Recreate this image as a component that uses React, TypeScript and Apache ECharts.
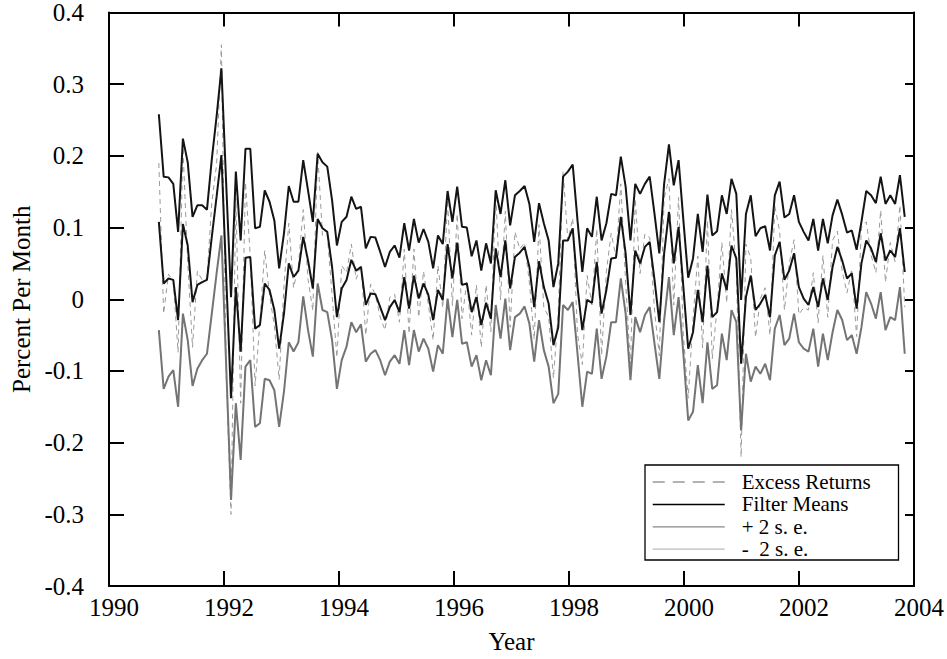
import React, { useEffect, useRef } from "react";
import * as echarts from "echarts";

// Monthly observations from late 1990 to late 2003
const FIRST_DATE = 1990.867;
const MONTH_STEP = 0.08369;

const excessReturns = [
  0.19, -0.02, 0.035, 0.025, -0.074, 0.212, 0.051, -0.067, 0.039, 0.027,
  0.029, 0.135, 0.188, 0.355, -0.105, -0.30, 0.141, -0.145, 0.163, 0.060,
  -0.121, -0.032, 0.068, 0.006, -0.037, -0.112, 0.019, 0.106, 0.016, 0.047,
  0.125, 0.028, -0.016, 0.205, 0.089, 0.090, 0.006, -0.081, 0.047, 0.037,
  0.077, 0.028, 0.049, -0.050, 0.021, 0.006, -0.025, -0.043, 0.003, 0.007,
  -0.032, 0.070, -0.048, 0.070, -0.025, 0.039, -0.007, -0.057, 0.047, -0.012,
  0.139, -0.009, 0.119, -0.027, 0.024, -0.050, 0.020, -0.067, 0.020, -0.045,
  0.149, -0.001, 0.123, -0.039, 0.094, 0.070, 0.079, 0.023, -0.056, 0.104,
  -0.012, -0.024, -0.110, -0.019, 0.179, 0.082, 0.113, -0.049, -0.091, 0.033,
  -0.008, 0.098, -0.078, 0.039, 0.092, 0.059, 0.161, 0.023, -0.091, 0.140,
  0.036, 0.091, 0.086, -0.015, -0.079, 0.141, 0.168, -0.008, 0.142, -0.050,
  -0.138, -0.028, 0.060, -0.068, 0.110, -0.083, -0.012, 0.079, -0.005, 0.125,
  0.043, -0.22, 0.077, 0.057, -0.053, 0.001, 0.016, -0.050, 0.130, 0.095,
  -0.015, 0.050, 0.083, -0.021, -0.012, -0.015, 0.037, -0.033, 0.061, -0.025,
  0.082, 0.095, 0.039, 0.009, 0.042, -0.052, 0.100, 0.108, 0.062, 0.037,
  0.124, 0.024, 0.079, 0.052, 0.131, -0.011,
];

const filterMeans = [
  0.108, 0.022, 0.029, 0.027, -0.029, 0.105, 0.075, -0.004, 0.020, 0.024,
  0.027, 0.087, 0.143, 0.201, 0.031, -0.138, 0.017, -0.073, 0.058, 0.059,
  -0.041, -0.036, 0.022, 0.013, -0.015, -0.069, -0.020, 0.050, 0.031, 0.040,
  0.087, 0.054, 0.015, 0.112, 0.099, 0.094, 0.045, -0.025, 0.015, 0.027,
  0.055, 0.040, 0.045, -0.008, 0.008, 0.007, -0.011, -0.029, -0.011, -0.001,
  -0.018, 0.031, -0.013, 0.033, 0.001, 0.022, 0.006, -0.029, 0.013, -0.001,
  0.077, 0.029, 0.079, 0.020, 0.022, -0.018, 0.003, -0.036, -0.005, -0.027,
  0.071, 0.031, 0.082, 0.015, 0.059, 0.065, 0.073, 0.045, -0.011, 0.053,
  0.017, -0.006, -0.064, -0.039, 0.082, 0.082, 0.099, 0.017, -0.043, -0.001,
  -0.005, 0.052, -0.020, 0.013, 0.057, 0.058, 0.115, 0.064, -0.022, 0.068,
  0.050, 0.073, 0.080, 0.027, -0.032, 0.064, 0.122, 0.050, 0.101, 0.017,
  -0.069, -0.046, 0.013, -0.032, 0.047, -0.025, -0.018, 0.036, 0.013, 0.075,
  0.057, -0.090, 0.003, 0.033, -0.015, -0.006, 0.006, -0.025, 0.061, 0.080,
  0.027, 0.040, 0.064, 0.017, 0.001, -0.008, 0.017, -0.011, 0.029, -0.001,
  0.045, 0.073, 0.054, 0.029, 0.036, -0.013, 0.050, 0.082, 0.071, 0.052,
  0.092, 0.054, 0.068, 0.059, 0.099, 0.038,
];

const plusTwoSE = [
  0.258, 0.171, 0.170, 0.161, 0.094, 0.224, 0.191, 0.115, 0.131, 0.131,
  0.125, 0.195, 0.255, 0.322, 0.160, 0.003, 0.178, 0.082, 0.210, 0.210,
  0.099, 0.101, 0.152, 0.136, 0.110, 0.043, 0.092, 0.158, 0.136, 0.136,
  0.194, 0.152, 0.108, 0.203, 0.191, 0.185, 0.138, 0.075, 0.108, 0.115,
  0.143, 0.126, 0.129, 0.071, 0.087, 0.086, 0.066, 0.045, 0.066, 0.075,
  0.058, 0.106, 0.068, 0.112, 0.079, 0.098, 0.080, 0.043, 0.089, 0.077,
  0.151, 0.108, 0.157, 0.101, 0.100, 0.060, 0.082, 0.040, 0.078, 0.050,
  0.152, 0.119, 0.166, 0.103, 0.145, 0.151, 0.158, 0.133, 0.080, 0.134,
  0.106, 0.082, 0.017, 0.050, 0.171, 0.178, 0.188, 0.110, 0.038, 0.099,
  0.087, 0.143, 0.082, 0.106, 0.147, 0.145, 0.199, 0.157, 0.082, 0.161,
  0.147, 0.161, 0.171, 0.119, 0.064, 0.161, 0.216, 0.159, 0.194, 0.110,
  0.030, 0.057, 0.119, 0.066, 0.146, 0.089, 0.095, 0.145, 0.119, 0.168,
  0.147, -0.001, 0.119, 0.145, 0.088, 0.099, 0.102, 0.068, 0.145, 0.164,
  0.114, 0.119, 0.145, 0.108, 0.094, 0.082, 0.112, 0.068, 0.112, 0.078,
  0.117, 0.139, 0.118, 0.093, 0.096, 0.069, 0.108, 0.151, 0.145, 0.134,
  0.171, 0.133, 0.145, 0.133, 0.173, 0.115,
];

const minusTwoSE = [
  -0.043, -0.125, -0.108, -0.099, -0.150, -0.020, -0.057, -0.121, -0.097, -0.085,
  -0.076, -0.020, 0.036, 0.089, -0.094, -0.280, -0.145, -0.224, -0.094, -0.085,
  -0.178, -0.173, -0.111, -0.113, -0.127, -0.178, -0.129, -0.060, -0.073, -0.060,
  0.004, -0.043, -0.080, 0.022, -0.015, -0.018, -0.057, -0.125, -0.085, -0.066,
  -0.032, -0.046, -0.035, -0.087, -0.076, -0.071, -0.085, -0.106, -0.087, -0.078,
  -0.090, -0.043, -0.092, -0.043, -0.073, -0.055, -0.069, -0.101, -0.064, -0.076,
  0.001, -0.053, -0.001, -0.062, -0.060, -0.094, -0.078, -0.113, -0.085, -0.106,
  -0.008, -0.055, 0.001, -0.071, -0.025, -0.020, -0.010, -0.034, -0.087, -0.029,
  -0.071, -0.094, -0.145, -0.132, -0.008, -0.015, -0.004, -0.076, -0.150, -0.101,
  -0.104, -0.041, -0.111, -0.080, -0.032, -0.032, 0.029, -0.020, -0.113, -0.025,
  -0.046, -0.022, -0.011, -0.062, -0.111, -0.029, 0.031, -0.050, 0.003, -0.076,
  -0.169, -0.157, -0.092, -0.145, -0.060, -0.125, -0.120, -0.048, -0.085, -0.015,
  -0.032, -0.183, -0.076, -0.115, -0.094, -0.104, -0.090, -0.113, -0.041, -0.022,
  -0.064, -0.055, -0.020, -0.060, -0.069, -0.073, -0.041, -0.094, -0.048, -0.085,
  -0.046, -0.015, -0.029, -0.057, -0.050, -0.076, -0.039, 0.010, -0.006, -0.027,
  0.010, -0.043, -0.025, -0.029, 0.017, -0.076,
];

const SERIES_NAMES = ["Excess Returns", "Filter Means", "+ 2 s. e.", "-  2 s. e."];

const FONT = "'Liberation Serif', 'Times New Roman', Times, serif";

function toPairs(values: number[]) {
  return values.map((v, i) => [FIRST_DATE + i * MONTH_STEP, v]);
}

function yLabel(v: number) {
  const r = Math.round(v * 10) / 10;
  return r === 0 ? "0" : r.toFixed(1);
}

export default function App() {
  const ref = useRef<HTMLDivElement>(null);

  useEffect(() => {
    if (!ref.current) return;
    const chart = echarts.init(ref.current, null, { renderer: "svg" });
    const axisColor = "#000";
    const axisFont = 25;
    const option: any = {
      animation: false,
      backgroundColor: "#fff",
      textStyle: { fontFamily: FONT },
      grid: { left: 109, right: 31, top: 12, bottom: 73, containLabel: false },
      xAxis: [
        {
          type: "value",
          position: "bottom",
          min: 1990,
          max: 2004,
          interval: 2,
          axisLine: { show: true, onZero: false, lineStyle: { color: axisColor, width: 2 } },
          axisTick: { show: true, inside: true, length: 15, lineStyle: { color: axisColor, width: 2 } },
          axisLabel: {
            margin: 9,
            color: "#000",
            fontSize: axisFont,
            fontFamily: FONT,
            padding: [0, 0, 0, 10],
            formatter: (v: number) => String(Math.round(v)),
          },
          splitLine: { show: false },
          name: "Year",
          nameLocation: "middle",
          nameGap: 43,
          nameTextStyle: { color: "#000", fontSize: axisFont, fontFamily: FONT },
        },
        {
          type: "value",
          position: "top",
          min: 1990,
          max: 2004,
          interval: 2,
          axisLine: { show: true, onZero: false, lineStyle: { color: axisColor, width: 2 } },
          axisTick: { show: true, inside: true, length: 14, lineStyle: { color: axisColor, width: 2 } },
          axisLabel: { show: false },
          splitLine: { show: false },
        },
      ],
      yAxis: [
        {
          type: "value",
          position: "left",
          min: -0.4,
          max: 0.4,
          interval: 0.1,
          axisLine: { show: true, onZero: false, lineStyle: { color: axisColor, width: 2 } },
          axisTick: { show: true, inside: true, length: 15, lineStyle: { color: axisColor, width: 2 } },
          axisLabel: {
            margin: 25,
            color: "#000",
            fontSize: axisFont,
            fontFamily: FONT,
            formatter: yLabel,
          },
          splitLine: { show: false },
          name: "Percent Per Month",
          nameLocation: "middle",
          nameRotate: 90,
          nameGap: 74,
          nameTextStyle: { color: "#000", fontSize: axisFont, fontFamily: FONT },
        },
        {
          type: "value",
          position: "right",
          min: -0.4,
          max: 0.4,
          interval: 0.1,
          axisLine: { show: true, onZero: false, lineStyle: { color: axisColor, width: 2 } },
          axisTick: { show: true, inside: true, length: 9, lineStyle: { color: axisColor, width: 2 } },
          axisLabel: { show: false },
          splitLine: { show: false },
        },
      ],
      legend: {
        orient: "vertical",
        left: 652,
        top: 471.5,
        itemWidth: 72,
        itemHeight: 12,
        itemGap: 1.4,
        padding: 0,
        selectedMode: false,
        itemStyle: { opacity: 0 },
        textStyle: {
          color: "#000",
          fontSize: 21,
          fontFamily: FONT,
          lineHeight: 21,
          padding: [0, 0, 0, 12],
        },
        data: [
          { name: SERIES_NAMES[0], itemStyle: { opacity: 0 }, lineStyle: { color: "#999", width: 1.5, type: [12, 8] } },
          { name: SERIES_NAMES[1], itemStyle: { opacity: 0 }, lineStyle: { color: "#000", width: 1.5, type: "solid" } },
          { name: SERIES_NAMES[2], itemStyle: { opacity: 0 }, lineStyle: { color: "#888", width: 1.2, type: "solid" } },
          { name: SERIES_NAMES[3], itemStyle: { opacity: 0 }, lineStyle: { color: "#bbb", width: 1.2, type: "solid" } },
        ],
      },
      graphic: [
        {
          type: "rect",
          shape: { x: 645, y: 465, width: 253.5, height: 95 },
          style: { fill: "none", stroke: "#000", lineWidth: 1.3 },
          z: 10,
        },
      ],
      series: [
        {
          name: SERIES_NAMES[0],
          type: "line",
          data: toPairs(excessReturns),
          symbol: "none",
          showSymbol: false,
          lineStyle: { color: "#9a9a9a", width: 1, type: [5, 4] },
          itemStyle: { color: "#9a9a9a" },
          z: 1,
        },
        {
          name: SERIES_NAMES[1],
          type: "line",
          data: toPairs(filterMeans),
          symbol: "none",
          showSymbol: false,
          lineStyle: { color: "#141414", width: 2 },
          itemStyle: { color: "#141414" },
          z: 3,
        },
        {
          name: SERIES_NAMES[2],
          type: "line",
          data: toPairs(plusTwoSE),
          symbol: "none",
          showSymbol: false,
          lineStyle: { color: "#141414", width: 2 },
          itemStyle: { color: "#141414" },
          z: 3,
        },
        {
          name: SERIES_NAMES[3],
          type: "line",
          data: toPairs(minusTwoSE),
          symbol: "none",
          showSymbol: false,
          lineStyle: { color: "#747474", width: 2 },
          itemStyle: { color: "#747474" },
          z: 2,
        },
      ],
    };
    chart.setOption(option);
    return () => chart.dispose();
  }, []);

  return (
    <div
      ref={ref}
      style={{ position: "fixed", left: 0, top: 0, width: 947, height: 659, background: "#fff" }}
    />
  );
}
